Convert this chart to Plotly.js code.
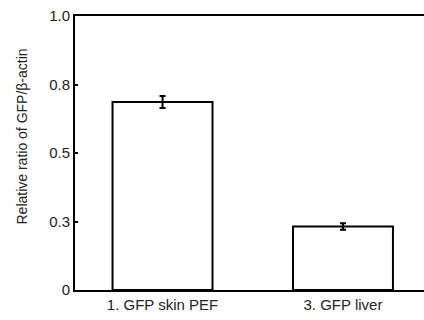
<!DOCTYPE html>
<html>
<head>
<meta charset="utf-8">
<script src="https://cdn.plot.ly/plotly-3.0.1.min.js"></script>
<style>html,body{margin:0;padding:0;background:#fff;}#chart{width:424px;height:320px;}</style>
</head>
<body>
<div id="chart"></div>
<script>
var categories = ['1. GFP skin PEF', '3. GFP liver'];
var ratios = [0.686, 0.232];
var errors = [0.022, 0.012];
var yTickVals = [0, 0.25, 0.5, 0.75, 1.0];
var yTickText = ['0', '0.3', '0.5', '0.8', '1.0'];
var yTitle = 'Relative ratio of GFP/β-actin';

var trace = {
  type: 'bar',
  x: [0, 1],
  y: ratios,
  width: 0.554,
  marker: {color: '#ffffff', line: {color: '#000000', width: 2}},
  error_y: {type: 'data', array: errors, visible: true, color: '#000000', thickness: 2, width: 3}
};

var layout = {
  width: 424, height: 320,
  margin: {l: 75, r: 0, t: 16, b: 30},
  paper_bgcolor: '#ffffff', plot_bgcolor: '#ffffff',
  showlegend: false,
  font: {family: 'Liberation Sans, Arial, sans-serif', size: 14, color: '#222'},
  xaxis: {
    range: [-0.485, 1.449],
    tickvals: [0, 1], ticktext: categories,
    showline: true, linecolor: '#000', linewidth: 2, mirror: true,
    showgrid: false, zeroline: false, ticks: '', ticklen: 0,
    tickfont: {size: 15, color: '#222'}
  },
  yaxis: {
    range: [0, 1.0],
    tickvals: yTickVals, ticktext: yTickText,
    showline: true, linecolor: '#000', linewidth: 2,
    showgrid: false, zeroline: false,
    ticks: 'inside', ticklen: 3, tickwidth: 2, tickcolor: '#000',
    tickfont: {size: 15, color: '#222'}
  },
  annotations: [{
    text: yTitle, xref: 'paper', yref: 'paper', x: -0.152, y: 0.56,
    xanchor: 'center', yanchor: 'middle', textangle: -90, showarrow: false,
    font: {size: 14, color: '#222'}
  }]
};

Plotly.newPlot('chart', [trace], layout, {displayModeBar: false, staticPlot: true});
</script>
</body>
</html>
